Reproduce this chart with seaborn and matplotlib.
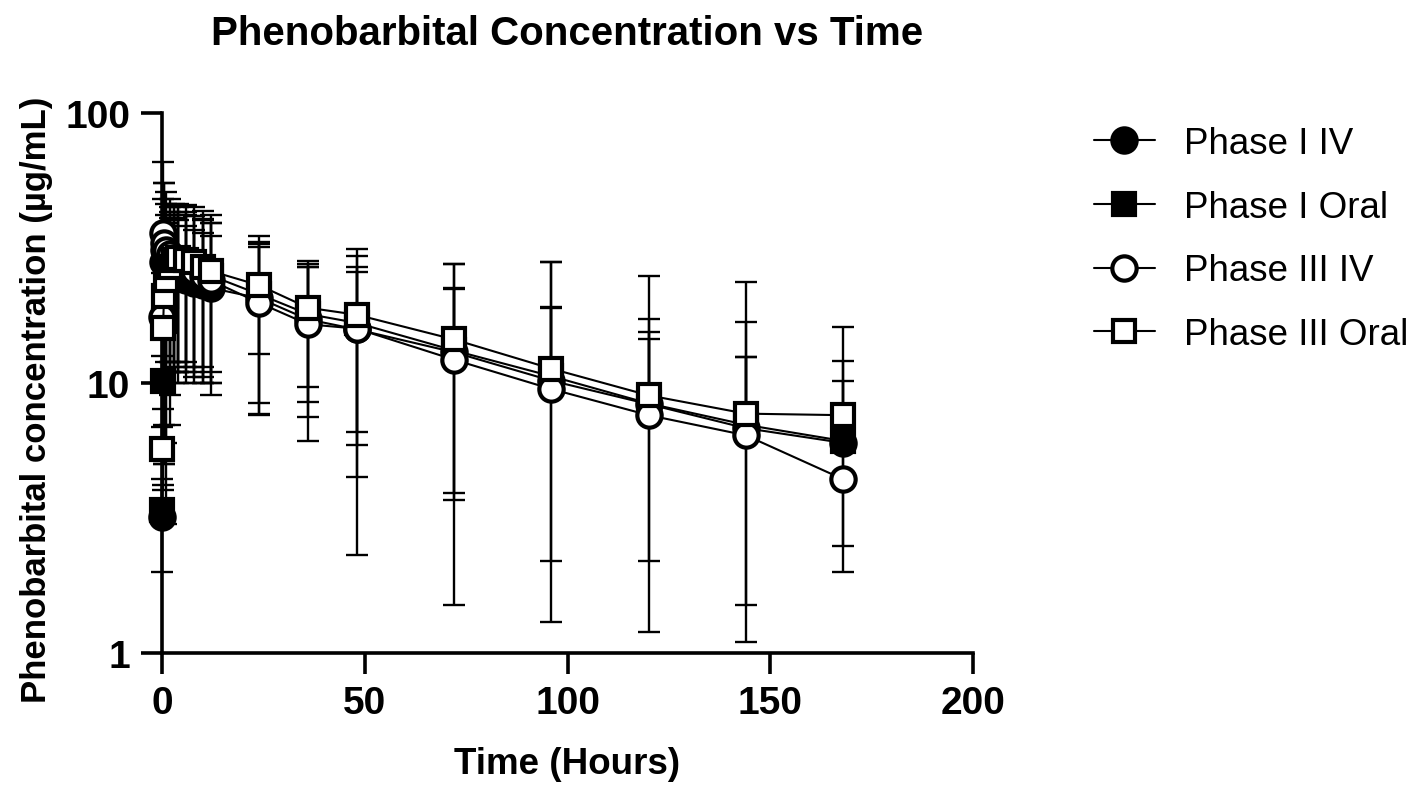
import matplotlib
matplotlib.use('Agg')
import matplotlib.pyplot as plt
from matplotlib.ticker import FixedLocator, NullLocator, FuncFormatter
import numpy as np
import seaborn as sns

# sampling times (hours)
hours = [0, 0.25, 0.5, 1, 2, 3, 4, 6, 8, 10, 12, 24, 36, 48, 72, 96, 120, 144, 168]

# mean concentrations (ug/mL)
p1_iv_mean = [3.2, 28, 31, 29, 27, 26, 25, 24, 23.5, 23, 22.5, 20.6, 17.2, 15.8, 13.0, 10.2, 8.35, 6.8, 6.0]
p1_oral_mean = [3.4, 10.2, 17, 21, 24, 26, 27, 27, 26.5, 26, 25, 21.3, 18.0, 16.7, 13.2, 10.6, 8.4, 7.0, 6.1]
p3_iv_mean = [17.5, 36, 33, 31, 30, 29, 28, 27, 26, 25, 24, 19.8, 16.5, 15.9, 12.2, 9.5, 7.6, 6.4, 4.4]
p3_oral_mean = [5.7, 16, 21, 24, 27, 28.5, 29, 28.5, 28, 27, 26, 23, 19.0, 17.9, 14.5, 11.3, 9.0, 7.7, 7.6]

# standard deviations
p1_iv_sd = [1.2, 20, 24, 17, 16, 15, 15, 14, 13.5, 13, 12.5, 12.2, 9.7, 9.9, 9.3, 8.9, 7.15, 5.7, 6.1]
p1_oral_sd = [3.5, 6, 12, 18, 17, 16, 16, 15, 15, 14.5, 14, 13.7, 9.5, 10.1, 9.3, 8.4, 6.2, 5.5, 4.1]
p3_iv_sd = [8, 30, 22, 20, 18, 17, 17, 16, 15.5, 15, 15, 12.1, 10.4, 13.6, 15.5, 18.5, 9.7, 10.4, 1.9]
p3_oral_sd = [6.9, 12, 16, 18, 18, 17, 17, 17, 17, 16.5, 16, 10.2, 9.3, 13.4, 13.0, 16.7, 15.9, 16.0, 8.5]

labels = ['Phase I IV', 'Phase I Oral', 'Phase III IV', 'Phase III Oral']

sns.set_style('ticks')
plt.rcParams['font.family'] = ['Liberation Sans', 'DejaVu Sans']
plt.rcParams.update({
    'font.weight': 'bold',
    'axes.labelweight': 'bold',
    'axes.titleweight': 'bold',
    'text.color': 'black',
    'axes.labelcolor': 'black',
    'xtick.color': 'black',
    'ytick.color': 'black',
    'axes.edgecolor': 'black',
})

fig = plt.figure(figsize=(14.18, 8.12), dpi=100)
ax = fig.add_axes([162 / 1418, 1 - 654 / 812, (973 - 162) / 1418, (654 - 114) / 812])

series = [
    (labels[0], p1_iv_mean, p1_iv_sd, 'o', 'black'),
    (labels[1], p1_oral_mean, p1_oral_sd, 's', 'black'),
    (labels[2], p3_iv_mean, p3_iv_sd, 'o', 'white'),
    (labels[3], p3_oral_mean, p3_oral_sd, 's', 'white'),
]

for name, mean, sd, marker, face in series:
    mean = np.array(mean)
    sd = np.array(sd)
    # negative lower bounds are not drawn on a log axis
    lower = np.where(mean - sd > 0, sd, 0)
    ax.errorbar(hours, mean, yerr=[lower, sd], fmt='none', ecolor='black',
                elinewidth=1.7, capsize=8, capthick=1.7, zorder=2, clip_on=False)
    sns.lineplot(x=hours, y=mean, ax=ax, color='black', marker=marker,
                 markersize=17.5 if marker == 'o' else 16.5, markerfacecolor=face,
                 markeredgecolor='black', markeredgewidth=3, linewidth=1.5,
                 label=name, clip_on=False, zorder=3, errorbar=None)

handles, names = ax.get_legend_handles_labels()
if ax.get_legend() is not None:
    ax.get_legend().remove()

ax.set_yscale('log')
ax.set_ylim(1, 100)
ax.set_xlim(0, 200)
ax.yaxis.set_major_locator(FixedLocator([1, 10, 100]))
ax.yaxis.set_minor_locator(NullLocator())
ax.yaxis.set_major_formatter(FuncFormatter(lambda v, p: f'{v:g}'))
ax.xaxis.set_major_locator(FixedLocator([0, 50, 100, 150, 200]))

sns.despine(ax=ax)
for side in ['left', 'bottom']:
    ax.spines[side].set_linewidth(2.6)
ax.tick_params(length=15, width=2.6, labelsize=28, pad=8)

ax.set_xlabel('Time (Hours)', fontsize=26.5, labelpad=18)
ax.set_ylabel('Phenobarbital concentration (µg/mL)', fontsize=25)
ax.yaxis.set_label_coords(-0.135, 0.47)
ax.set_title('Phenobarbital Concentration vs Time', fontsize=29, pad=50)

fig.legend(handles, names, loc='upper left', bbox_to_anchor=(1094 / 1418, 1 - 127 / 812),
           frameon=False, borderpad=0, borderaxespad=0, handlelength=1.65,
           handletextpad=0.8, labelspacing=0.78,
           prop={'size': 26.5, 'weight': 'normal'})

fig.savefig('out.png', dpi=100)
